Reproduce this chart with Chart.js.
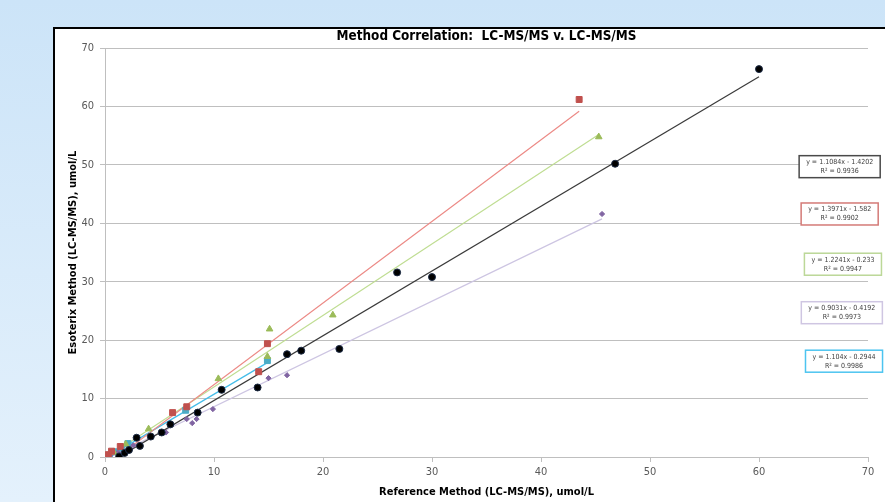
<!DOCTYPE html>
<html lang="en">
<head>
<meta charset="utf-8">
<title>Method Correlation</title>
<script src="https://cdn.jsdelivr.net/npm/chart.js"></script>
<style>
    body {
        margin: 0;
        width: 885px;
        height: 502px;
        overflow: hidden;
        background: linear-gradient(to bottom, #cce4f8, #e4f1fc);
    }
    .frame {
        position: absolute;
        left: 53px;
        top: 27px;
        width: 900px;
        height: 520px;
        background: #fff;
        border: 2px solid #000;
    }
    #chart {
        position: absolute;
        left: 0;
        top: 0;
    }
</style>
</head>
<body>
<div class="frame"></div>
<canvas id="chart" width="885" height="502"></canvas>

<script>
// values (umol/L)
const blackX  = [1.3, 1.8, 2.2, 2.9, 3.2, 4.2, 5.2, 6.0, 8.5, 10.7, 14.0, 16.7, 18.0, 21.5, 26.8, 30.0, 46.8, 60.0];
const blackY  = [0.1, 0.7, 1.2, 3.3, 1.9, 3.5, 4.2, 5.6, 7.6, 11.5, 11.9, 17.6, 18.2, 18.5, 31.6, 30.8, 50.2, 66.4];
const redX    = [0.3, 0.6, 1.4, 6.2, 7.5, 14.1, 14.9, 43.5];
const redY    = [0.4, 1.0, 1.8, 7.6, 8.6, 14.6, 19.4, 61.2];
const greenX  = [0.8, 1.9, 4.0, 10.4, 14.9, 15.1, 20.9, 45.3];
const greenY  = [0.8, 2.2, 4.8, 13.4, 17.2, 21.9, 24.3, 54.8];
const purpleX = [0.5, 1.2, 2.6, 5.6, 7.5, 8.0, 8.4, 9.9, 15.0, 16.7, 45.6];
const purpleY = [0.3, 0.8, 2.0, 4.2, 6.5, 5.8, 6.5, 8.2, 13.5, 14.0, 41.6];
const cyanX   = [0.4, 0.9, 1.5, 2.1, 7.4, 14.9];
const cyanY   = [0.3, 0.9, 1.5, 2.3, 8.0, 16.5];

// trendline equations as printed on the chart
const slopes     = [1.1084, 1.3971, 1.2241, 0.9031, 1.104];
const intercepts = [-1.4202, -1.582, -0.233, -0.4192, -0.2944];
const rSquared   = ['0.9936', '0.9902', '0.9947', '0.9973', '0.9986'];

const axisTicks = [0, 10, 20, 30, 40, 50, 60, 70];

const FONT = "'Liberation Sans Narrow', 'DejaVu Sans Condensed', sans-serif";

const series = [
    { xs: blackX,  ys: blackY,  marker: '#000000', edge: '#1b2a44', line: '#3a3a3a', style: 'circle',   r: 3.5 },
    { xs: redX,    ys: redY,    marker: '#c0504d', edge: '#c0504d', line: '#ec8a86', style: 'rect',     r: 4.2 },
    { xs: greenX,  ys: greenY,  marker: '#9bbb59', edge: '#9bbb59', line: '#bfdd92', style: 'triangle', r: 3.8 },
    { xs: purpleX, ys: purpleY, marker: '#8064a2', edge: '#8064a2', line: '#cdc5e2', style: 'rectRot',  r: 2.6 },
    { xs: cyanX,   ys: cyanY,   marker: '#4bacc6', edge: '#4bacc6', line: '#45bde9', style: 'rect',     r: 4.2 }
];

// where the equation boxes sit, in axis units, and their frame colours
const boxSpots  = [[67.4, 49.7], [67.4, 41.6], [67.7, 33.0], [67.6, 24.7], [67.8, 16.4]];
const boxColors = ['#4a4a4a', '#d47a77', '#bcd898', '#cfc6e2', '#4cc4f0'];

const datasets = [];
series.forEach(function (s, i) {
    datasets.push({
        type: 'scatter',
        data: s.xs.map(function (x, k) { return { x: x, y: s.ys[k] }; }),
        backgroundColor: s.marker,
        borderColor: s.edge,
        borderWidth: 1,
        pointStyle: s.style,
        pointRadius: s.r,
        order: 0
    });
    const lo = Math.min.apply(null, s.xs);
    const hi = Math.max.apply(null, s.xs);
    datasets.push({
        type: 'line',
        data: [
            { x: lo, y: slopes[i] * lo + intercepts[i] },
            { x: hi, y: slopes[i] * hi + intercepts[i] }
        ],
        borderColor: s.line,
        borderWidth: 1.2,
        pointRadius: 0,
        fill: false,
        order: 1
    });
});

function fmtEq(i) {
    const b = intercepts[i];
    return 'y = ' + slopes[i] + 'x ' + (b < 0 ? '- ' : '+ ') + Math.abs(b);
}

const equationBoxes = {
    id: 'equationBoxes',
    afterDraw: function (chart) {
        const ctx = chart.ctx;
        const xs = chart.scales.x, ys = chart.scales.y;
        ctx.save();
        ctx.font = '7px ' + FONT;
        ctx.textAlign = 'center';
        ctx.textBaseline = 'middle';
        boxSpots.forEach(function (p, i) {
            const cx = xs.getPixelForValue(p[0]);
            const cy = ys.getPixelForValue(p[1]);
            const line1 = fmtEq(i);
            const line2 = 'R\u00b2 = ' + rSquared[i];
            const w = ctx.measureText(line1).width + 14;
            const h = 22;
            ctx.fillStyle = '#ffffff';
            ctx.fillRect(cx - w / 2, cy - h / 2, w, h);
            ctx.strokeStyle = boxColors[i];
            ctx.lineWidth = 1.5;
            ctx.strokeRect(cx - w / 2, cy - h / 2, w, h);
            ctx.fillStyle = '#404040';
            ctx.fillText(line1, cx, cy - 4.5);
            ctx.fillText(line2, cx, cy + 4.5);
        });
        ctx.restore();
    }
};

new Chart(document.getElementById('chart').getContext('2d'), {
    type: 'scatter',
    data: { datasets: datasets },
    plugins: [equationBoxes],
    options: {
        responsive: false,
        animation: false,
        devicePixelRatio: 1,
        layout: { padding: { left: 63, right: 17, top: 28, bottom: 2 } },
        plugins: {
            legend: { display: false },
            tooltip: { enabled: false },
            title: {
                display: true,
                fullSize: false,
                text: 'Method Correlation:  LC-MS/MS v. LC-MS/MS',
                color: '#000',
                font: { family: FONT, size: 13.4, weight: 'bold' },
                padding: { top: 0, bottom: 4 }
            }
        },
        scales: {
            x: {
                type: 'linear',
                min: axisTicks[0],
                max: axisTicks[axisTicks.length - 1],
                afterBuildTicks: function (scale) { scale.ticks = axisTicks.map(function (v) { return { value: v }; }); },
                afterFit: function (scale) { scale.height = 43; },
                ticks: { color: '#595959', font: { family: FONT, size: 11 }, padding: 4 },
                grid: { drawOnChartArea: false, color: '#bfbfbf', tickLength: 5 },
                border: { color: '#bfbfbf' },
                title: {
                    display: true,
                    text: 'Reference Method (LC-MS/MS), umol/L',
                    color: '#000',
                    font: { family: FONT, size: 11, weight: 'bold' },
                    padding: { top: 0, bottom: 1 }
                }
            },
            y: {
                type: 'linear',
                min: axisTicks[0],
                max: axisTicks[axisTicks.length - 1],
                afterBuildTicks: function (scale) { scale.ticks = axisTicks.map(function (v) { return { value: v }; }); },
                afterFit: function (scale) { scale.width = 42; },
                ticks: { color: '#595959', font: { family: FONT, size: 11 }, padding: 6 },
                grid: { color: '#bfbfbf', tickLength: 5 },
                border: { color: '#bfbfbf' },
                title: {
                    display: true,
                    text: 'Esoterix Method (LC-MS/MS), umol/L',
                    color: '#000',
                    font: { family: FONT, size: 11, weight: 'bold' },
                    padding: { top: 4, bottom: 0 }
                }
            }
        }
    }
});
</script>
</body>
</html>
